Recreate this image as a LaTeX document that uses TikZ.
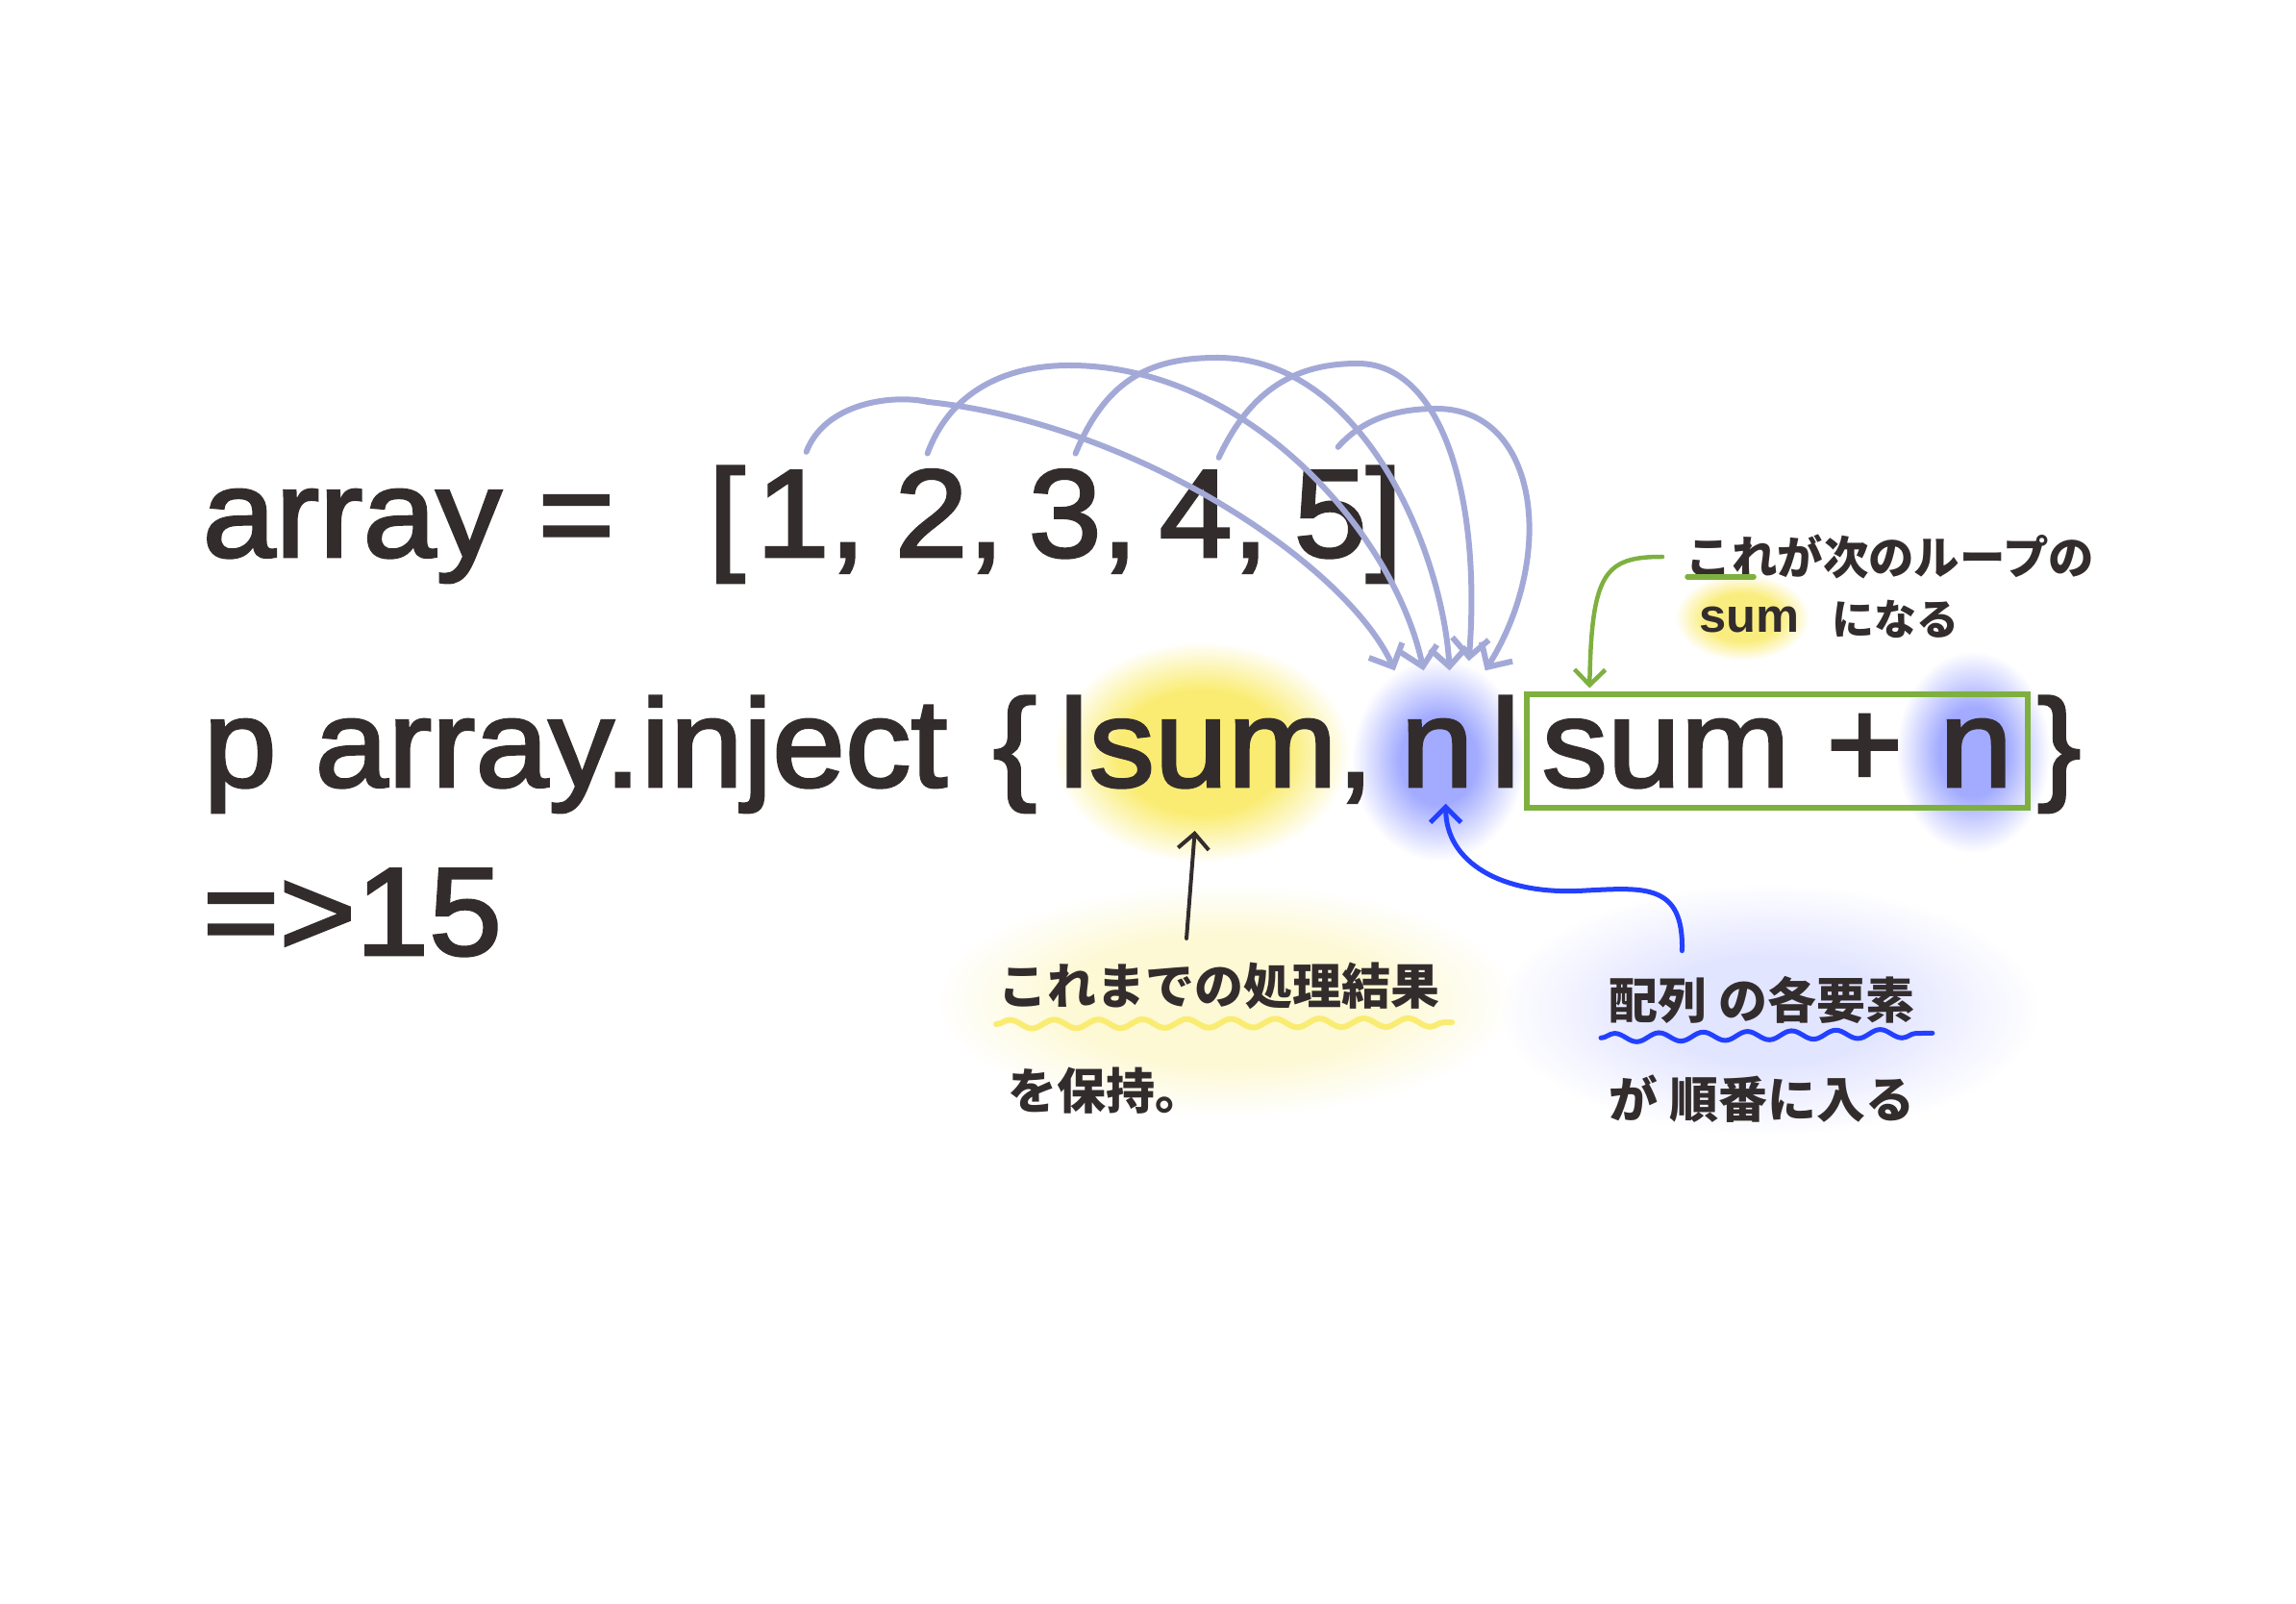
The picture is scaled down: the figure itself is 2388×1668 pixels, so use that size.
\documentclass[tikz,border=0pt]{standalone}
\usepackage{fontspec}
\setmainfont{Liberation Sans}[FakeStretch=1.03]
\newfontfamily\codefont{Liberation Sans}[FakeStretch=1.05, FakeBold=2.2]
\newfontfamily\jpfont{Noto Sans CJK JP}
\usepackage{tikz}
\usetikzlibrary{arrows.meta,positioning,calc,fit,decorations.pathmorphing}
\definecolor{cInk}{HTML}{332C2D}
\definecolor{cLav}{HTML}{A3A9D7}
\definecolor{cLeaf}{HTML}{7EB03F}
\definecolor{cBlue}{HTML}{2340FF}
\definecolor{cGlowY}{HTML}{FAEC72}
\definecolor{cGlowB}{HTML}{A2ABFF}
\pgfdeclareradialshading{glowY}{\pgfpoint{0bp}{0bp}}{color(0bp)=(cGlowY); color(14bp)=(cGlowY); color(25bp)=(white); color(50bp)=(white)}
\pgfdeclareradialshading{glowB}{\pgfpoint{0bp}{0bp}}{color(0bp)=(cGlowB); color(11bp)=(cGlowB); color(25bp)=(white); color(50bp)=(white)}

\begin{document}
\begin{tikzpicture}[x=0.1mm, y=-0.1mm,
  code/.style={font=\codefont\fontsize{37}{44}\selectfont, text=cInk, inner sep=0pt, anchor=base west},
  note/.style={font=\jpfont\bfseries\fontsize{#1}{18}\selectfont, text=cInk, inner sep=0pt, anchor=west},
  note/.default=14.5,
  hop/.style={draw=cLav, line width=0.6mm, line cap=round, -{Straight Barb[length=1.9mm, width=3.8mm]}},
  pointer/.style={draw=#1, line width=0.4mm, line cap=round, -{Straight Barb[length=1.6mm, width=3.2mm]}},
  wavy/.style={draw=#1, line width=0.6mm, line cap=round, decorate, decoration={snake, amplitude=0.45mm, segment length=4.6mm}},
  glow/.style={shading=#1, draw=none}]
  \fill[white] (0,0) rectangle (2388,1668);
  \useasboundingbox (0,0) rectangle (2388,1668);
  % highlights
  \shade[glow=glowY] (1250,782) ellipse [x radius=15.5mm, y radius=11.5mm];
  \shade[glow=glowB] (1496,790) ellipse [x radius=9mm, y radius=10.5mm];
  \shade[glow=glowB] (2052,782) ellipse [x radius=8mm, y radius=10.5mm];
  \shade[glow=glowY, opacity=.3] (1275,1040) ellipse [x radius=30mm, y radius=12mm];
  \shade[glow=glowB, opacity=.3] (1840,1050) ellipse [x radius=28mm, y radius=13mm];
  \shade[glow=glowY, opacity=.9] (1812,642) ellipse [x radius=7mm, y radius=4.5mm];
  % code
  \node[code] (lhs) at (210,579) {array =};
  \node[code] (lbr) at (736,579) {[};
  \node[code] (d1) at (786,579) {1,};
  \node[code] (d2) at (930,579) {2,};
  \node[code] (d3) at (1069,579) {3,};
  \node[code] (d4) at (1205,579) {4,};
  \node[code] (d5) at (1345,579) {5};
  \node[code] (rbr) at (1420,579) {]};
  \node[code] (pcmd) at (211,818) {p};
  \node[code] (inj) at (327,818) {array.inject};
  \node[code] (lbrace) at (1032,818) {\{};
  \node[code] (bar1) at (1101,818) {l};
  \node[code] (acc) at (1132,818) {sum};
  \node[code] (comma) at (1390,818) {,};
  \node[code] (nv) at (1456,818) {n};
  \node[code] (bar2) at (1550,818) {l};
  \node[code] (body) at (1603,818) {sum + n};
  \node[code] (rbrace) at (2118,818) {\}};
  \node[code] (res) at (210,993) {=>15};
  \node[draw=cLeaf, line width=0.55mm, fit=(body), inner xsep=1.5mm, inner ysep=2mm] (nextbox) {};
  % notes
  \node[note] (accnote) at (1038,1025) {これまでの処理結果};
  \node[note] (accnote2) at (1048,1134) {を保持。};
  \node[note] (elemnote) at (1673,1040) {配列 の各要素};
  \node[note] (elemnote2) at (1673,1143) {が 順番に入る};
  \node[note=13.5] (loopnote) at (1753,579) {これが次のループの};
  \node[anchor=west, inner sep=0pt, text=cInk, font=\bfseries\fontsize{14}{16}\selectfont] (loopsum) at (1767,644) {sum};
  \node[note=12.5] (loopend) at (1905,644) {になる};
  \draw[wavy=cGlowY] ([xshift=-0.2mm, yshift=-1.5mm]accnote.south west) -- ([xshift=1.2mm, yshift=-1.3mm]accnote.south east);
  \draw[wavy=cBlue, line width=0.5mm] ([xshift=-0.8mm, yshift=-1.4mm]elemnote.south west) -- ([xshift=1.8mm, yshift=-0.9mm]elemnote.south east);
  \draw[draw=cLeaf, line width=0.55mm, line cap=round] ([xshift=0.2mm, yshift=0.3mm]loopnote.south west) -- ++(69,0);
  % element hops
  \draw[hop] ([xshift=-0.5mm, yshift=1.9mm]d1.north) .. controls +(20,-52) and +(-35,-8) .. (965,418)
    .. controls +(215,22) and +(-50,-110) .. ([xshift=-4.4mm, yshift=5mm]nv.north);
  \draw[hop] ([xshift=-2.3mm, yshift=1.6mm]d2.north) .. controls +(22,-60) and +(-72,0) .. (1112,380)
    .. controls +(188,0) and +(-30,-140) .. ([xshift=-1.4mm, yshift=5mm]nv.north);
  \draw[hop] ([xshift=-0.8mm, yshift=1.6mm]d3.north) .. controls +(33,-80) and +(-66,0) .. (1266,372)
    .. controls +(154,0) and +(-7,-120) .. ([xshift=1.3mm, yshift=5mm]nv.north);
  \draw[hop] ([xshift=0.5mm, yshift=1.3mm]d4.north) .. controls +(34,-73) and +(-62,0) .. (1412,378)
    .. controls +(88,0) and +(13,-170) .. ([xshift=3.3mm, yshift=6mm]nv.north);
  \draw[hop] ([xshift=0.8mm, yshift=2.4mm]d5.north) .. controls +(29,-33) and +(-34,0) .. (1494,425)
    .. controls +(106,0) and +(75,-120) .. ([xshift=5mm, yshift=5mm]nv.north);
  % pointers
  \draw[pointer=cInk] ([xshift=-3.4mm, yshift=2.4mm]accnote.north) -- ([xshift=-1.9mm, yshift=-4.4mm]acc.south);
  \draw[pointer=cBlue, line width=0.5mm] ([xshift=-8.3mm, yshift=2.6mm]elemnote.north) .. controls +(2,-70) and +(60,-3) .. (1650,926)
    .. controls +(-90,6) and +(0,60) .. ([xshift=0.9mm, yshift=-1.7mm]nv.south);
  \draw[pointer=cLeaf, line width=0.45mm] ([xshift=-2.4mm]loopnote.west) .. controls +(-60,0) and +(2,-120) .. ([xshift=6.8mm, yshift=0.4mm]nextbox.north west);
\end{tikzpicture}
\end{document}
